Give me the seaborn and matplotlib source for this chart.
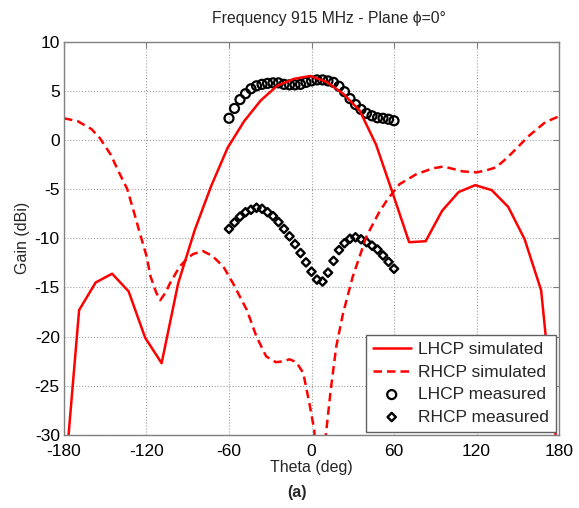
import numpy as np
import pandas as pd
import matplotlib
matplotlib.use("Agg")
import matplotlib.pyplot as plt
import seaborn as sns

# ---- data ----
lhcp_sim_theta = [-180, -169, -157, -145, -133, -121, -109, -97, -85, -73, -61, -49, -37,
                  -25, -13, -1, 11, 23, 35, 47, 59, 71, 83, 95, 107, 119, 131, 143, 155,
                  167, 180]
lhcp_sim_gain = [-35.5, -17.3, -14.5, -13.6, -15.4, -20.1, -22.7, -14.6, -9.2, -4.7, -0.8,
                 1.9, 4.0, 5.5, 6.2, 6.5, 5.9, 4.7, 3.0, -0.5, -5.4, -10.4, -10.3, -7.2,
                 -5.3, -4.6, -5.1, -6.8, -10.1, -15.3, -33.5]

rhcp_sim_theta = [-180, -170, -160, -154, -146, -140, -134, -129, -125, -120, -117, -113,
                  -110, -106, -103, -96, -90, -86, -79, -72, -64, -57, -47, -40, -33, -26,
                  -20, -16, -11, -6, -1.5, 2, 6, 10.5, 14, 18, 23, 30, 40, 49, 55, 64, 76,
                  88, 96, 110, 120, 127, 134, 140, 146, 158, 170, 180]
rhcp_sim_gain = [2.2, 1.9, 1.1, 0.2, -1.5, -3.3, -5.0, -7.4, -9.4, -11.8, -13.9, -15.5,
                 -16.3, -15.5, -14.6, -12.9, -12.0, -11.6, -11.3, -11.8, -12.9, -14.6,
                 -17.3, -20.0, -22.0, -22.6, -22.5, -22.3, -22.6, -23.7, -26.8, -29.5,
                 -40.0, -29.9, -25.4, -21.0, -17.6, -13.9, -9.8, -7.4, -6.1, -4.5, -3.5,
                 -2.9, -2.7, -3.2, -3.3, -3.1, -2.8, -2.1, -1.3, 0.4, 1.8, 2.4]

meas_theta = list(range(-60, 61, 4))
lhcp_meas_gain = [2.2, 3.2, 4.1, 4.7, 5.2, 5.5, 5.65, 5.75, 5.8, 5.8, 5.65, 5.6, 5.6, 5.65,
                  5.85, 6.0, 6.1, 6.1, 6.0, 5.85, 5.45, 4.9, 4.2, 3.6, 3.1, 2.7, 2.45, 2.25,
                  2.2, 2.1, 1.95]
rhcp_meas_gain = [-9.05, -8.4, -7.8, -7.35, -7.1, -6.9, -7.0, -7.35, -7.75, -8.35, -9.05,
                  -9.8, -10.6, -11.5, -12.45, -13.4, -14.2, -14.4, -13.5, -12.3, -11.2,
                  -10.5, -10.05, -9.9, -10.1, -10.4, -10.75, -11.15, -11.75, -12.4, -13.1]

x_ticks = [-180, -120, -60, 0, 60, 120, 180]
y_ticks = [-30, -25, -20, -15, -10, -5, 0, 5, 10]

title = "Frequency 915 MHz - Plane \u03d5=0\u00b0"
xlabel = "Theta (deg)"
ylabel = "Gain (dBi)"
labels = ["LHCP simulated", "RHCP simulated", "LHCP measured", "RHCP measured"]

# ---- style ----
sns.set_style("white")
plt.rcParams["font.family"] = ["Liberation Sans", "DejaVu Sans"]
plt.rcParams["axes.unicode_minus"] = False

fig = plt.figure(figsize=(5.79, 5.08), dpi=100)
ax = fig.add_axes([0.1105, 0.1437, 0.855, 0.7745])

sns.lineplot(x=lhcp_sim_theta, y=lhcp_sim_gain, ax=ax, color="#ff0000", lw=1.8,
             sort=False, estimator=None, label=labels[0])
sns.lineplot(x=rhcp_sim_theta, y=rhcp_sim_gain, ax=ax, color="#ff0000", lw=1.8,
             sort=False, estimator=None, label=labels[1], dashes=False,
             linestyle=(0, (3.4, 2.0)))
sns.scatterplot(x=meas_theta, y=lhcp_meas_gain, ax=ax, marker="o", s=42,
                facecolor="none", edgecolor="black", linewidth=1.6, label=labels[2])
sns.scatterplot(x=meas_theta, y=rhcp_meas_gain, ax=ax, marker="D", s=18,
                facecolor="none", edgecolor="black", linewidth=1.7, label=labels[3])

ax.set_xlim(-180, 180)
ax.set_ylim(-30, 10)
ax.set_xticks(x_ticks)
ax.set_yticks(y_ticks)
ax.grid(True, linestyle=":", color="#a0a0a0", linewidth=0.8)
ax.set_axisbelow(True)
for sp in ax.spines.values():
    sp.set_color("#808080")
    sp.set_linewidth(1.0)
ax.tick_params(direction="in", length=4, color="#808080", top=True, right=True,
               labelsize=12.5, labelcolor="black", pad=3)
ax.tick_params(axis="x", pad=6.5)

ax.set_title(title, fontsize=11.3, pad=13, x=0.535)
ax.set_xlabel(xlabel, fontsize=11.5, labelpad=1)
ax.set_ylabel(ylabel, fontsize=11.5, labelpad=3)

leg = ax.legend(loc="lower right", fontsize=12.5, frameon=True, fancybox=False,
                borderaxespad=0.2, handlelength=2.2, handletextpad=0.4,
                labelspacing=0.42, borderpad=0.4)
leg.get_frame().set_edgecolor("#606060")
leg.get_frame().set_linewidth(1.0)
leg.get_frame().set_alpha(1)

fig.text(0.513, 0.03, "(a)", ha="center", va="center", fontsize=11.5, fontweight="bold")

fig.savefig("out.png", dpi=100)
